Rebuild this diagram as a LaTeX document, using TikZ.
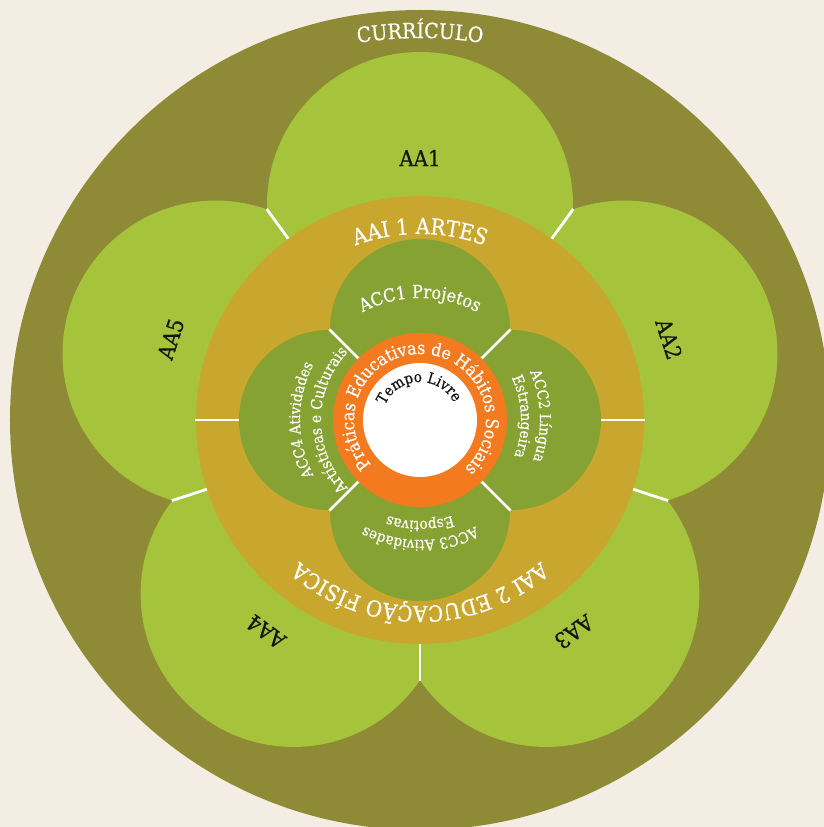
\documentclass[tikz,border=0pt]{standalone}
\usepackage{fontspec}
\setmainfont{DejaVu Serif}[FakeStretch=0.9, FakeBold=0.6]
\usetikzlibrary{decorations.text}
\definecolor{bgcream}{HTML}{F3EDE3}
\definecolor{olive}{HTML}{8E8A36}
\definecolor{petal}{HTML}{A5C43B}
\definecolor{gold}{HTML}{C9A72F}
\definecolor{accgreen}{HTML}{86A232}
\definecolor{orng}{HTML}{F47A20}
\definecolor{darktext}{HTML}{151515}
\tikzset{
  sep/.style={white, line width=2.8pt},
  aalabel/.style={text=darktext, font=\fontsize{22}{26}\selectfont, inner sep=0pt},
}
\newcommand{\arctext}[5]{% #1 start angle, #2 end angle, #3 radius, #4 format, #5 text
  \path[decorate, decoration={text along path, text align=center,
    text={|#4|#5}}] (#1:#3) arc[start angle=#1, end angle=#2, radius=#3];
}
\begin{document}
\begin{tikzpicture}[x=1pt,y=1pt]
\useasboundingbox (-420pt,-407pt) rectangle (404pt,420pt);
\fill[bgcream] (-420pt,-407pt) rectangle (404pt,420pt);
% curriculum circle
\fill[olive] (0,0) circle[radius=410pt];
% petals
\foreach \a in {90,18,-54,-126,162}
  \fill[petal] (\a:215pt) circle[radius=153pt];
% separators between petals
\foreach \a in {54,-18,-90,-162,126}
  \draw[sep] (\a:222pt) -- (\a:261pt);
% AAI ring
\fill[gold] (0,0) circle[radius=224pt];
\draw[sep] (0:180pt) -- (0:225pt);
\draw[sep] (180:180pt) -- (180:225pt);
% ACC circles
\foreach \a in {90,0,-90,180}
  \fill[accgreen] (\a:91pt) circle[radius=90pt];
\foreach \a in {45,135,225,315}
  \draw[sep] (\a:85pt) -- (\a:128pt);
% orange ring and centre
\fill[orng] (0,0) circle[radius=87pt];
\fill[white] (0,0) circle[radius=57pt];
% labels
\arctext{130}{50}{382pt}{\fontsize{21}{24}\selectfont\color{white}}{CURRÍCULO}
\arctext{135}{45}{186pt}{\fontsize{22}{26}\selectfont\color{white}}{AAI 1 ARTES}
\arctext{-10}{-170}{186pt}{\fontsize{22}{26}\selectfont\color{white}}{AAI 2 EDUCAÇÃO FÍSICA}
\arctext{150}{30}{122pt}{\fontsize{18}{21}\selectfont\color{white}}{ACC1 Projetos}
\arctext{62}{-58}{120pt}{\fontsize{15}{18}\selectfont\color{white}}{ACC2 Língua}
\arctext{62}{-58}{101pt}{\fontsize{15}{18}\selectfont\color{white}}{Estrangeira}
\arctext{-30}{-150}{120pt}{\fontsize{15}{18}\selectfont\color{white}}{ACC3 Atividades}
\arctext{-30}{-150}{101pt}{\fontsize{15}{18}\selectfont\color{white}}{Espotivas}
\arctext{240}{120}{120pt}{\fontsize{15}{18}\selectfont\color{white}}{ACC4 Atividades}
\arctext{240}{120}{99pt}{\fontsize{15.5}{18}\selectfont\color{white}}{Artísticas e Culturais}
\arctext{231}{-56}{66pt}{\fontsize{17.5}{20}\selectfont\color{white}}{Práticas Educativas de Hábitos Sociais}
\arctext{177}{7}{38pt}{\fontsize{15}{18}\selectfont\color{darktext}}{Tempo Livre}
\node[aalabel] (aa1) at (90:262pt) {AA1};
\node[aalabel, rotate=-72] (aa2) at (18:262pt) {AA2};
\node[aalabel, rotate=-144] (aa3) at (-54:262pt) {AA3};
\node[aalabel, rotate=144] (aa4) at (-126:262pt) {AA4};
\node[aalabel, rotate=72] (aa5) at (162:262pt) {AA5};
\end{tikzpicture}
\end{document}
